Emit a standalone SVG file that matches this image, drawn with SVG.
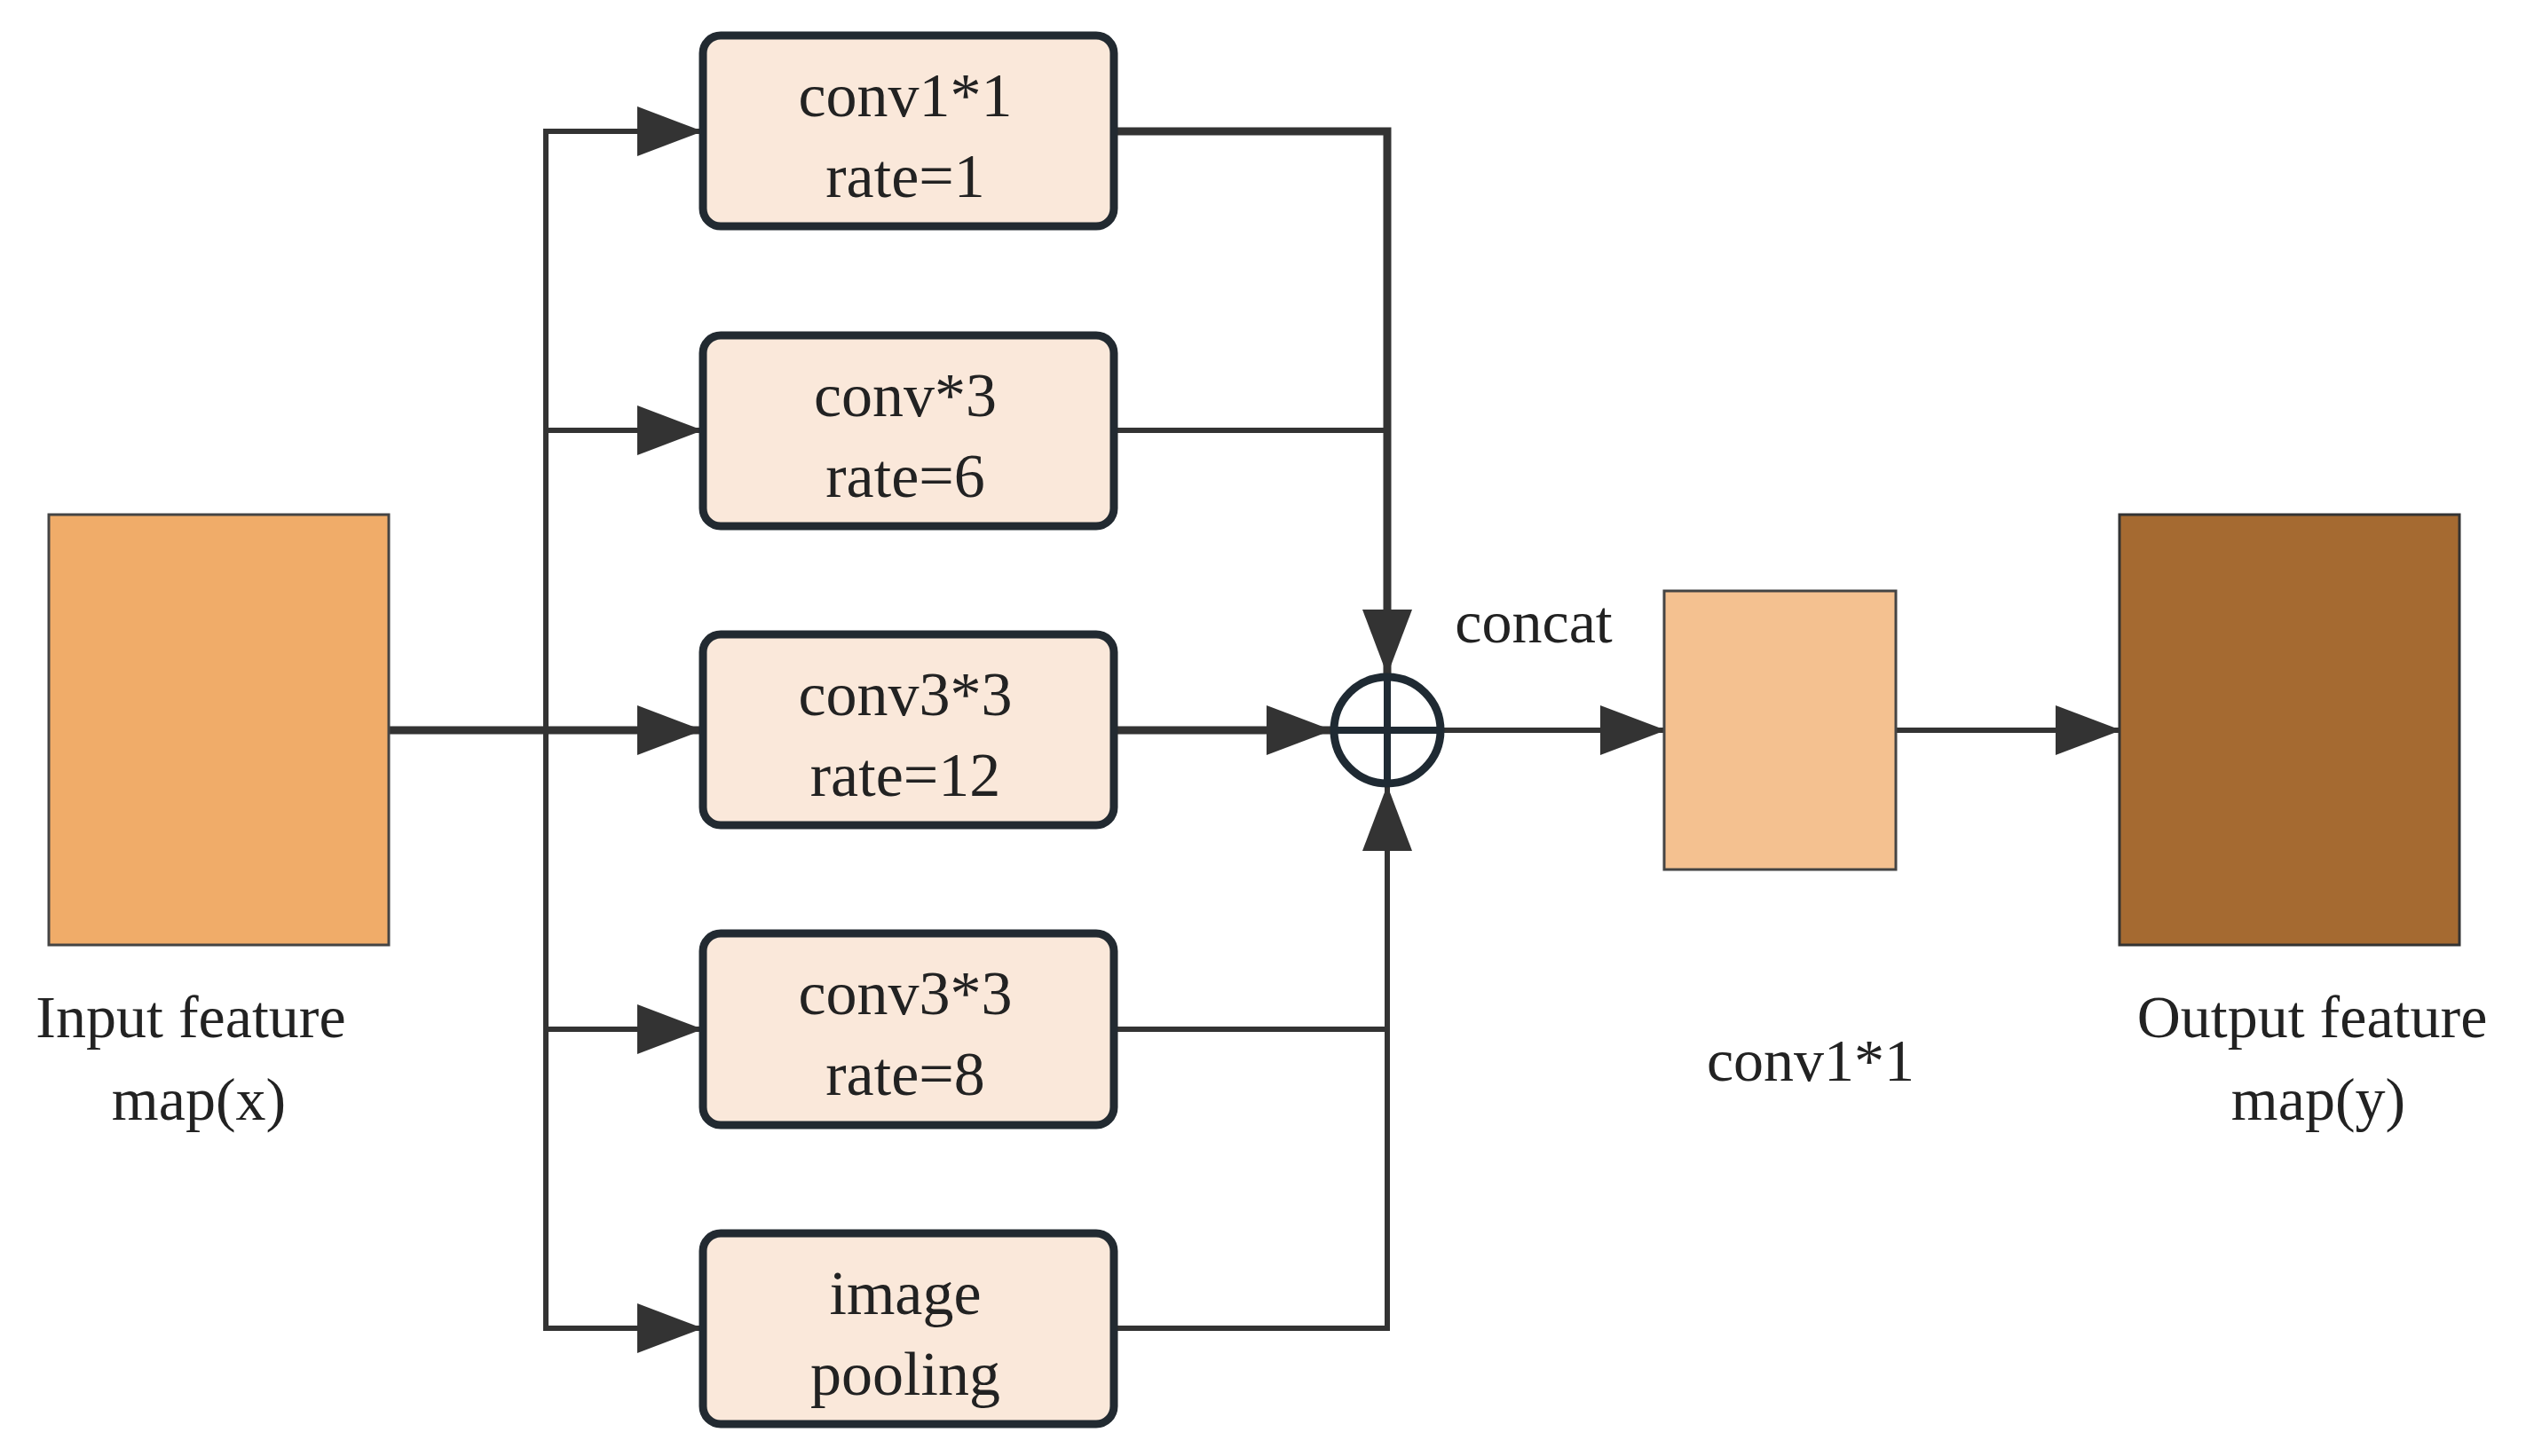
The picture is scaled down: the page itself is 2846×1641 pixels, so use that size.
<svg xmlns="http://www.w3.org/2000/svg" width="2846" height="1641" viewBox="0 0 2846 1641">
<style>
text{font-family:"Liberation Serif","Times New Roman",serif;fill:#222;text-anchor:middle}
.bt{font-size:70px}
.lb{font-size:68px}
.box{fill:#FAE8DA;stroke:#222a31;stroke-width:9}
.ln{fill:none;stroke:#333;stroke-width:6}
.th{stroke-width:9}
</style>
<defs>
<marker id="ah" markerUnits="userSpaceOnUse" markerWidth="80" markerHeight="60" refX="74" refY="28" orient="auto">
<path d="M0,0 L74,28 L0,56 Z" fill="#333"/>
</marker>
</defs>
<rect width="2846" height="1641" fill="#fff"/>
<g id="connectors">
<path class="ln th" d="M438,823 H792" marker-end="url(#ah)"/>
<path class="ln" d="M615,823 V148 H792" marker-end="url(#ah)"/>
<path class="ln" d="M615,485 H792" marker-end="url(#ah)"/>
<path class="ln" d="M615,823 V1497 H792" marker-end="url(#ah)"/>
<path class="ln" d="M615,1160 H792" marker-end="url(#ah)"/>
<path class="ln th" d="M1255,148 H1563 V761" marker-end="url(#ah)"/>
<path class="ln" d="M1255,485 H1563"/>
<path class="ln th" d="M1255,823 H1501" marker-end="url(#ah)"/>
<path class="ln" d="M1255,1160 H1563"/>
<path class="ln" d="M1255,1497 H1563 V885" marker-end="url(#ah)"/>
<path class="ln" d="M1625,823 H1877" marker-end="url(#ah)"/>
<path class="ln" d="M2136,823 H2390" marker-end="url(#ah)"/>
</g>
<g id="sum">
<circle cx="1563" cy="823" r="60" fill="none" stroke="#1f2a33" stroke-width="9"/>
<path d="M1503,823 H1623 M1563,763 V883" stroke="#1f2a33" stroke-width="8"/>
<text class="lb" x="1728" y="724">concat</text>
</g>
<g id="input">
<rect x="55" y="580" width="383" height="485" fill="#F0AC69" stroke="#444" stroke-width="3"/>
<text class="lb" x="215" y="1169">Input feature</text>
<text class="lb" x="224" y="1262">map(x)</text>
</g>
<g id="b1"><rect class="box" x="792" y="40" width="463" height="215" rx="20"/><text class="bt" x="1020" y="131">conv1*1</text><text class="bt" x="1020" y="222">rate=1</text></g>
<g id="b2"><rect class="box" x="792" y="378" width="463" height="215" rx="20"/><text class="bt" x="1020" y="469">conv*3</text><text class="bt" x="1020" y="560">rate=6</text></g>
<g id="b3"><rect class="box" x="792" y="715" width="463" height="215" rx="20"/><text class="bt" x="1020" y="806">conv3*3</text><text class="bt" x="1020" y="897">rate=12</text></g>
<g id="b4"><rect class="box" x="792" y="1052" width="463" height="216" rx="20"/><text class="bt" x="1020" y="1143">conv3*3</text><text class="bt" x="1020" y="1234">rate=8</text></g>
<g id="b5"><rect class="box" x="792" y="1390" width="463" height="215" rx="20"/><text class="bt" x="1020" y="1481">image</text><text class="bt" x="1020" y="1572">pooling</text></g>
<g id="conv">
<rect x="1875" y="666" width="261" height="314" fill="#F4C190" stroke="#444" stroke-width="3"/>
<text class="lb" x="2040" y="1218">conv1*1</text>
</g>
<g id="output">
<rect x="2388" y="580" width="383" height="485" fill="#A56A31" stroke="#333" stroke-width="3"/>
<text class="lb" x="2605" y="1169">Output feature</text>
<text class="lb" x="2612" y="1262">map(y)</text>
</g>
</svg>
